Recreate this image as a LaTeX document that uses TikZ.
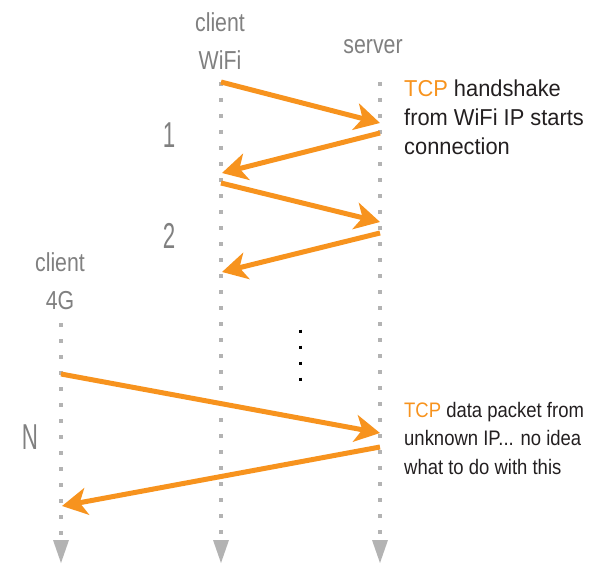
\documentclass[tikz,border=0pt]{standalone}
\usepackage{fontspec}
\setmainfont{Liberation Sans}[FakeStretch=0.95]
\newfontfamily\numfont{Liberation Sans}[FakeStretch=0.62]
\newfontfamily\notefont{Liberation Sans}[FakeStretch=0.88]
\newfontfamily\whofont{Liberation Sans}[FakeStretch=0.82]
\usetikzlibrary{arrows.meta}
\definecolor{msgorange}{HTML}{F7931E}
\definecolor{lblgray}{HTML}{808080}
\definecolor{linegray}{HTML}{B3B3B3}
\definecolor{notetext}{HTML}{231F20}

\begin{document}
\begin{tikzpicture}[x=1pt,y=-1pt,
     who/.style = {text=lblgray, font=\whofont\fontsize{26}{38}\selectfont, align=center, anchor=base, inner sep=0pt},
     num/.style = {text=lblgray, font=\numfont\fontsize{36}{36}\selectfont, anchor=base, inner sep=0pt},
     note/.style = {text=notetext, align=left, anchor=base west, inner sep=0pt},
     lifeline/.style = {draw=linegray, line width=4pt, dash pattern=on 4pt off 12pt},
     msg/.style = {draw=msgorange, line width=5pt, -{Stealth[length=25pt,width=27pt,inset=7pt]}},
     more/.style = {draw=black, line width=3pt, dash pattern=on 3pt off 13pt}
    ]
    \useasboundingbox (0,0) rectangle (604,580);

    \node [who] (wifilbl) at (220,70) {client\\WiFi};
    \node [who] (srvlbl) at (373,54) {server};
    \node [who] (ltelbl) at (60,309) {client\\4G};
    \node [num] (one) at (169,148) {1};
    \node [num] (two) at (169,248) {2};
    \node [num] (nth) at (30,449) {N};

    \coordinate (wifi) at (221,82);
    \coordinate (wifi end) at (221,535);
    \coordinate (srv) at (380,82);
    \coordinate (srv end) at (380,535);
    \coordinate (lte) at (61,323);
    \coordinate (lte end) at (61,535);
    \draw[lifeline] (wifi) -- (wifi end);
    \draw[lifeline] (srv) -- (srv end);
    \draw[lifeline] (lte) -- (lte end);
    \foreach \x in {61,221,380}
        \fill[linegray] (\x-8,540) -- (\x+8,540) -- (\x,563) -- cycle;

    \coordinate (w1) at (221,82);
    \coordinate (s1) at (380,123);
    \coordinate (s2) at (380,133);
    \coordinate (w2) at (222,173);
    \coordinate (w3) at (221,183);
    \coordinate (s3) at (380,222);
    \coordinate (s4) at (380,233);
    \coordinate (w4) at (222,272);
    \coordinate (l1) at (61,374);
    \coordinate (s5) at (380,433);
    \coordinate (s6) at (380,447);
    \coordinate (l2) at (62,506);

    \draw[msg] (w1) -- (s1);
    \draw[msg] (s2) -- (w2);
    \draw[msg] (w3) -- (s3);
    \draw[msg] (s4) -- (w4);
    \draw[msg] (l1) -- (s5);
    \draw[msg] (s6) -- (l2);

    \coordinate (more) at (300,329.5);
    \coordinate (more end) at (300,381);
    \draw[more] (more) -- (more end);

    \node [note, font=\fontsize{23}{28.5}\selectfont] (hsnote) at (404,154)
        {\textcolor{msgorange}{TCP} handshake\\from WiFi IP starts\\connection};
    \node [note, font=\notefont\fontsize{21}{28.5}\selectfont] (datanote) at (404,474)
        {\textcolor{msgorange}{TCP} data packet from\\unknown IP... no idea\\what to do with this};

\end{tikzpicture}
\end{document}
